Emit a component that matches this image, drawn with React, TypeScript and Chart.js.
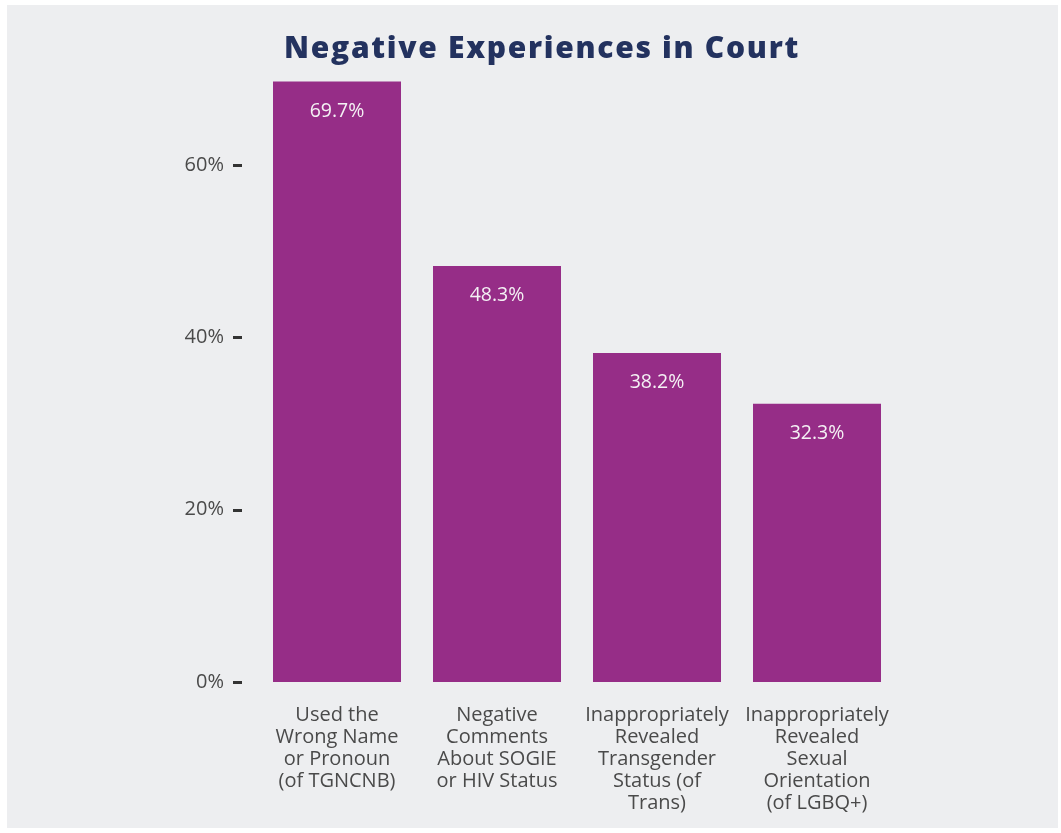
import React, { useEffect, useRef } from "react";
import { Chart, registerables } from "chart.js";

Chart.register(...registerables);

const TITLE = "Negative Experiences in Court";
const CATEGORIES: string[][] = [
  ["Used the", "Wrong Name", "or Pronoun", "(of TGNCNB)"],
  ["Negative", "Comments", "About SOGIE", "or HIV Status"],
  ["Inappropriately", "Revealed", "Transgender", "Status (of", "Trans)"],
  ["Inappropriately", "Revealed", "Sexual", "Orientation", "(of LGBQ+)"],
];
const VALUES: number[] = [69.7, 48.3, 38.2, 32.3];
const Y_TICKS: number[] = [0, 20, 40, 60];

const BAR_COLOR = "#962d87";
const TITLE_COLOR = "#23325f";
const TEXT_COLOR = "#4a4a4a";
const BG = "#edeef0";
const FONT = "'Open Sans', 'Noto Sans', sans-serif";

const PAD_LEFT = 178;
const PAD_RIGHT = 161;

const titlePlugin = {
  id: "spacedTitle",
  afterDraw(chart: any) {
    const ctx = chart.ctx;
    ctx.save();
    ctx.fillStyle = TITLE_COLOR;
    ctx.font = `800 30px ${FONT}`;
    ctx.textAlign = "center";
    ctx.textBaseline = "middle";
    (ctx as any).letterSpacing = "1.7px";
    const cx = (PAD_LEFT + (chart.width - PAD_RIGHT)) / 2 + 1;
    ctx.fillText(TITLE, cx, 44);
    ctx.restore();
  },
};

const valueLabels = {
  id: "valueLabels",
  afterDatasetsDraw(chart: any) {
    const ctx = chart.ctx;
    const meta = chart.getDatasetMeta(0);
    ctx.save();
    ctx.fillStyle = "#f4f1f4";
    ctx.font = `19.5px ${FONT}`;
    ctx.textAlign = "center";
    ctx.textBaseline = "middle";
    meta.data.forEach((bar: any, i: number) => {
      ctx.fillText(VALUES[i].toFixed(1) + "%", bar.x, bar.y + 30);
    });
    ctx.restore();
  },
};

const tickDashes = {
  id: "tickDashes",
  afterDraw(chart: any) {
    const ctx = chart.ctx;
    const y = chart.scales.y;
    const left = chart.chartArea.left;
    ctx.save();
    ctx.strokeStyle = "#333333";
    ctx.lineWidth = 3;
    Y_TICKS.forEach((v) => {
      const py = Math.round(y.getPixelForValue(v)) + 0.5;
      ctx.beginPath();
      ctx.moveTo(left - 24, py);
      ctx.lineTo(left - 15, py);
      ctx.stroke();
    });
    ctx.restore();
  },
};

export default function App() {
  const ref = useRef<HTMLCanvasElement | null>(null);
  useEffect(() => {
    if (!ref.current) return;
    const chart = new Chart(ref.current, {
      type: "bar",
      data: {
        labels: CATEGORIES,
        datasets: [
          {
            data: VALUES,
            backgroundColor: BAR_COLOR,
            borderWidth: 0,
            barPercentage: 0.8,
            categoryPercentage: 1,
          },
        ],
      },
      options: {
        animation: false,
        responsive: true,
        maintainAspectRatio: false,
        layout: { padding: { left: PAD_LEFT, right: PAD_RIGHT, top: 74, bottom: 0 } },
        plugins: {
          legend: { display: false },
          tooltip: { enabled: false },
          title: { display: false },
        },
        scales: {
          x: {
            grid: { display: false, drawTicks: false },
            border: { display: false },
            ticks: {
              color: TEXT_COLOR,
              font: { family: FONT, size: 20, lineHeight: "22px" as any },
              padding: 22,
              maxRotation: 0,
              autoSkip: false,
            },
            afterFit(scale: any) {
              scale.height = 146;
            },
          },
          y: {
            min: 0,
            max: 70,
            grid: { display: false, drawTicks: false },
            border: { display: false },
            ticks: {
              stepSize: 20,
              color: TEXT_COLOR,
              font: { family: FONT, size: 20 },
              padding: 33,
              callback: (v: any) => v + "%",
            },
            afterBuildTicks(scale: any) {
              scale.ticks = Y_TICKS.map((v) => ({ value: v }));
            },
            afterFit(scale: any) {
              scale.width = 72;
            },
          },
        },
      },
      plugins: [valueLabels, tickDashes, titlePlugin],
    });
    return () => chart.destroy();
  }, []);

  return (
    <div
      style={{
        position: "fixed",
        left: 7,
        top: 5,
        width: 1051,
        height: 823,
        background: BG,
      }}
    >
      <canvas ref={ref} />
    </div>
  );
}
